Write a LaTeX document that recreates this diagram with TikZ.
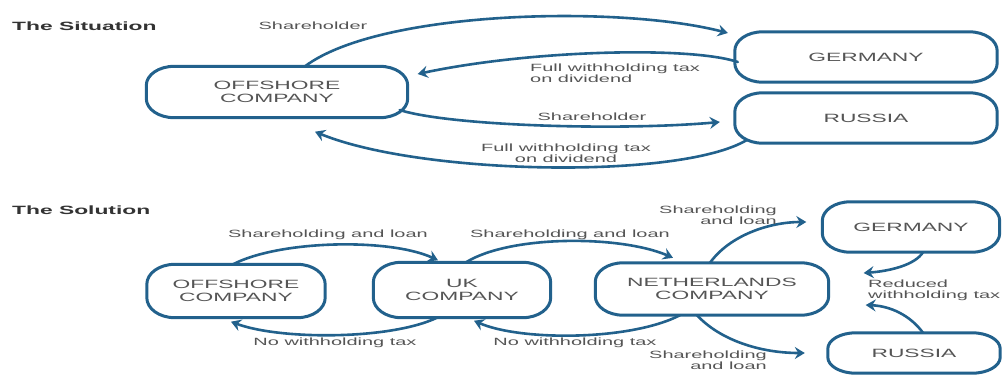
\documentclass[tikz,border=0pt]{standalone}
\usepackage{fontspec}
\setmainfont{Liberation Sans}[FakeStretch=1.9]
\usetikzlibrary{arrows.meta}
\definecolor{boxblue}{HTML}{22618C}
\definecolor{txtgrey}{HTML}{555555}
\definecolor{titlegrey}{HTML}{333333}
\tikzset{
  cbox/.style={align=center, text=txtgrey, font=\fontsize{12}{12.5}\selectfont, inner sep=0pt},
  boxline/.style={draw=boxblue, line width=3pt, line join=round},
  arr/.style={draw=boxblue, line width=2.6pt, line cap=round,
    -{Stealth[length=10pt,width=12pt,inset=3.5pt]}},
  lbl/.style={text=txtgrey, font=\fontsize{10.5}{11}\selectfont, inner sep=0pt},
  ttl/.style={text=titlegrey, font=\fontsize{12}{13}\selectfont\bfseries, inner sep=0pt, anchor=west}
}
% rounded box with elliptical corners: #1 node name, #2 x radius, #3 y radius
\newcommand\drawebox[3]{%
  \draw[boxline] ([xshift=#2]#1.north west) -- ([xshift=-#2]#1.north east)
    arc[start angle=90,end angle=0,x radius=#2,y radius=#3]
    -- ([yshift=#3]#1.south east)
    arc[start angle=0,end angle=-90,x radius=#2,y radius=#3]
    -- ([xshift=#2]#1.south west)
    arc[start angle=270,end angle=180,x radius=#2,y radius=#3]
    -- ([yshift=-#3]#1.north west)
    arc[start angle=180,end angle=90,x radius=#2,y radius=#3] -- cycle;}
\begin{document}
\begin{tikzpicture}[x=1pt,y=-1pt]
\useasboundingbox[fill=white] (0,0) rectangle (1005,376);

% ---------- The Situation ----------
\node[ttl] (t1) at (12,26) {The Situation};
\node[cbox, minimum width=261pt, minimum height=51pt] (off1) at (277,92) {OFFSHORE\\COMPANY};
\node[cbox, minimum width=262pt, minimum height=50pt] (ger1) at (866,57) {GERMANY};
\node[cbox, minimum width=262pt, minimum height=50pt] (rus1) at (866,118) {RUSSIA};
\drawebox{off1}{28pt}{19pt}
\drawebox{ger1}{28pt}{19pt}
\drawebox{rus1}{28pt}{19pt}

\draw[arr] ([xshift=28pt]off1.north) .. controls (380,10) and (620,5) .. ([shift={(-7pt,24pt)}]ger1.west);
\node[lbl] (l1) at (313,26) {Shareholder};

\draw[arr] ([shift={(3pt,-5pt)}]ger1.west) .. controls (690,46) and (530,50) .. ([shift={(10pt,18pt)}]off1.east);
\node[lbl, align=left, anchor=west] (l2) at (530,73) {Full withholding tax\\on dividend};

\draw[arr] ([shift={(-8pt,-18pt)}]off1.east) .. controls (450,126) and (620,131) .. ([shift={(-15pt,-4pt)}]rus1.west);
\node[lbl] (l3) at (592,117) {Shareholder};

\draw[arr] ([shift={(12pt,-22pt)}]rus1.west) .. controls (680,180) and (420,175) .. ([shift={(38pt,-14pt)}]off1.south);
\node[lbl, align=center] (l4) at (566,153) {Full withholding tax\\on dividend};

% ---------- The Solution ----------
\node[ttl] (t2) at (12,210) {The Solution};
\node[cbox, minimum width=178pt, minimum height=53pt] (off2) at (236,291) {OFFSHORE\\COMPANY};
\node[cbox, minimum width=177pt, minimum height=55pt] (uk) at (462,290) {UK\\COMPANY};
\node[cbox, minimum width=233pt, minimum height=52pt] (nl) at (712,289) {NETHERLANDS\\COMPANY};
\node[cbox, minimum width=177pt, minimum height=50pt] (ger2) at (911,227) {GERMANY};
\node[cbox, minimum width=172pt, minimum height=40pt] (rus2) at (914,353) {RUSSIA};
\drawebox{off2}{28pt}{20pt}
\drawebox{uk}{28pt}{20pt}
\drawebox{nl}{28pt}{19pt}
\drawebox{ger2}{28pt}{19pt}
\drawebox{rus2}{28pt}{16pt}

\draw[arr] ([xshift=-3pt]off2.north) .. controls (280,240) and (390,238) .. ([shift={(-24pt,2pt)}]uk.north);
\node[lbl] (l5) at (328,235) {Shareholding and loan};

\draw[arr] ([xshift=-25pt]uk.south) .. controls (390,340) and (280,340) .. ([shift={(-5pt,-4pt)}]off2.south);
\node[lbl] (l6) at (335,343) {No withholding tax};

\draw[arr] ([xshift=4pt]uk.north) .. controls (510,235) and (620,235) .. ([shift={(-39pt,5pt)}]nl.north);
\node[lbl] (l7) at (570,235) {Shareholding and loan};

\draw[arr] ([xshift=-32pt]nl.south) .. controls (630,341) and (520,341) .. ([shift={(12pt,-3pt)}]uk.south);
\node[lbl] (l8) at (575,343) {No withholding tax};

\draw[arr] ([xshift=-2pt]nl.north) .. controls (730,235) and (770,222) .. ([shift={(-16pt,5pt)}]ger2.west);
\node[lbl, align=right, anchor=east] (l9) at (777,215) {Shareholding\\and loan};

\draw[arr] ([xshift=-15pt]nl.south) .. controls (720,340) and (760,353) .. ([shift={(-23pt,0pt)}]rus2.west);
\node[lbl, align=right, anchor=east] (l10) at (767,360) {Shareholding\\and loan};

\draw[arr] ([xshift=12pt]ger2.south) .. controls (915,265) and (890,271) .. ([shift={(35pt,16pt)}]nl.east);
\draw[arr] ([xshift=9pt]rus2.north) .. controls (910,315) and (890,306) .. ([shift={(37pt,-16pt)}]nl.east);
\node[lbl, align=left, anchor=west] (l11) at (868,290) {Reduced\\withholding tax};
\end{tikzpicture}
\end{document}
